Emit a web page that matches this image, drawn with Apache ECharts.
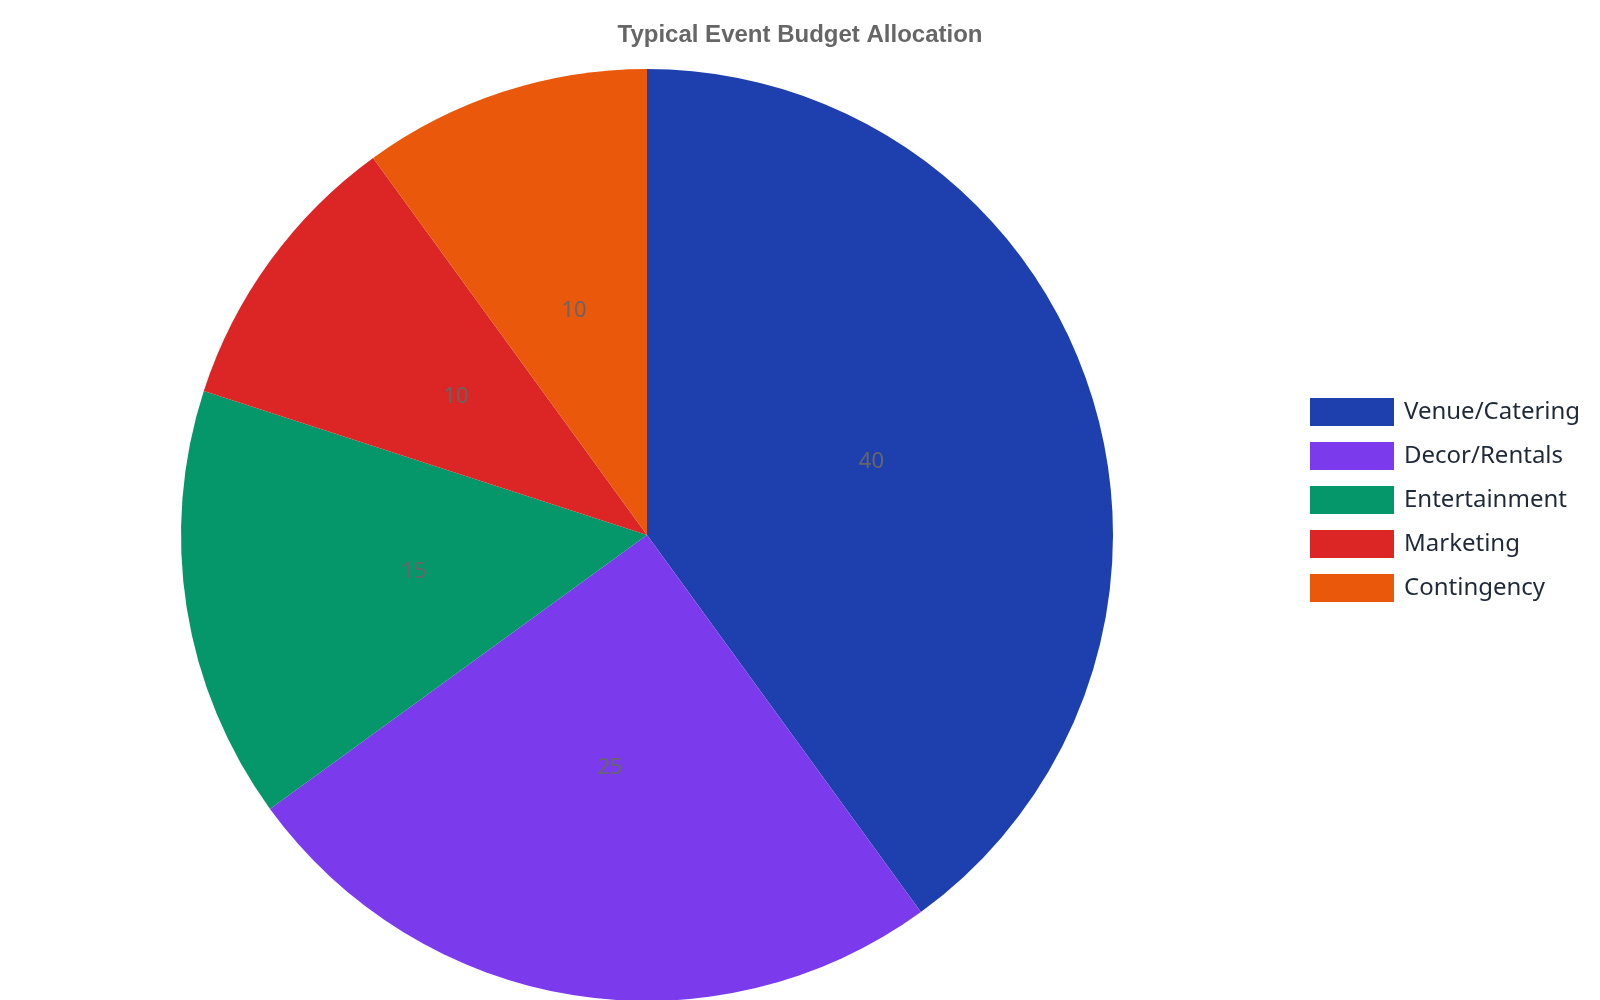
<!DOCTYPE html>
<html>
<head>
<meta charset="utf-8">
<script src="https://cdn.jsdelivr.net/npm/echarts@6/dist/echarts.min.js"></script>
<style>
html,body{margin:0;padding:0;background:#fff;}
#chart{width:1600px;height:1000px;}
</style>
</head>
<body>
<div id="chart"></div>
<script>
const categories = ['Venue/Catering', 'Decor/Rentals', 'Entertainment', 'Marketing', 'Contingency'];
const values = [40, 25, 15, 10, 10];
const colors = ['#1e40af', '#7c3aed', '#059669', '#dc2626', '#ea580c'];
const titleText = 'Typical Event Budget Allocation';

const chart = echarts.init(document.getElementById('chart'));
chart.setOption({
  backgroundColor: '#ffffff',
  animation: false,
  color: colors,
  title: {
    text: titleText,
    left: 'center',
    top: 18,
    textStyle: { fontFamily: 'Liberation Sans, Arial, sans-serif', fontSize: 24, fontWeight: 'bold', color: '#666666' }
  },
  legend: {
    orient: 'vertical',
    left: 1305,
    top: 393,
    itemWidth: 84,
    itemHeight: 28,
    itemGap: 16,
    icon: 'rect',
    textStyle: { fontFamily: 'Noto Sans, sans-serif', fontSize: 24, color: '#1f2937', padding: [4, 0, 0, 5] },
    data: categories
  },
  series: [{
    type: 'pie',
    center: [647, 535],
    radius: [0, 466],
    startAngle: 90,
    clockwise: true,
    label: {
      show: true,
      position: 'inner',
      formatter: '{c}',
      fontFamily: 'Noto Sans, sans-serif',
      fontSize: 22,
      color: '#666666'
    },
    labelLine: { show: false },
    itemStyle: { borderWidth: 0 },
    emphasis: { disabled: true },
    data: categories.map((c, i) => ({ name: c, value: values[i] }))
  }]
});
</script>
</body>
</html>
